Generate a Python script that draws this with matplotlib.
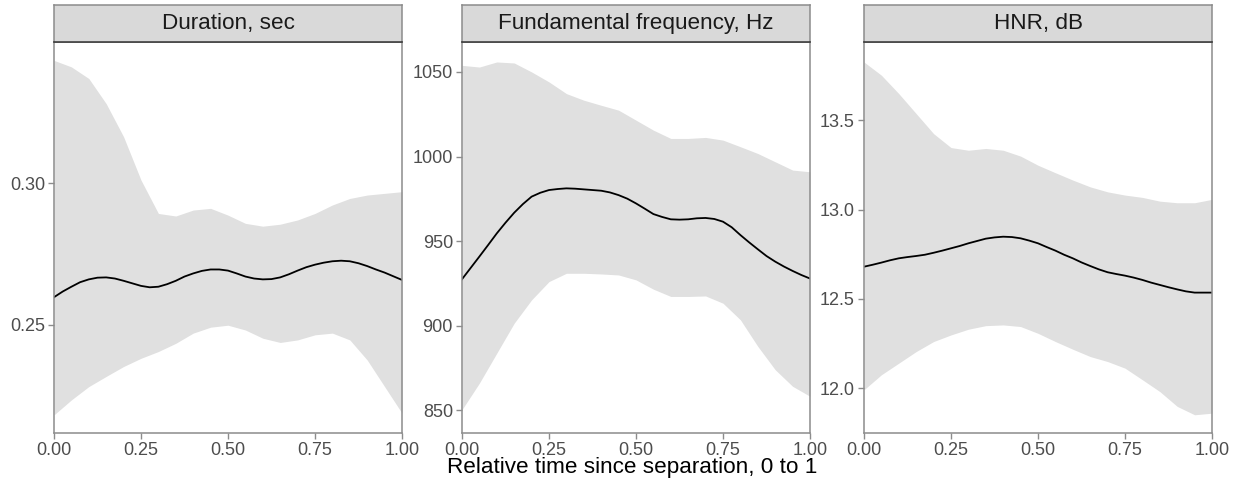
import matplotlib
matplotlib.use("Agg")
from matplotlib import pyplot as plt

plt.rcParams['font.family'] = ['Liberation Sans', 'DejaVu Sans']

# relative time grids (ribbons read every 0.05, mean curves every 0.025)
time = [i / 20 for i in range(21)]
time_fine = [i / 40 for i in range(41)]

# Duration, sec
dur_mean = [0.2598, 0.2618, 0.2635, 0.2651, 0.2661, 0.2667, 0.2668, 0.2664, 0.2656, 0.2647,
            0.2638, 0.2633, 0.2635, 0.2644, 0.2656, 0.2671, 0.2682, 0.2691, 0.2696, 0.2696,
            0.2692, 0.2682, 0.2671, 0.2664, 0.2661, 0.2662, 0.2668, 0.2679, 0.2692, 0.2704,
            0.2713, 0.2720, 0.2725, 0.2727, 0.2725, 0.2718, 0.2708, 0.2696, 0.2685, 0.2672, 0.2659]
dur_upper = [0.3435, 0.3412, 0.3371, 0.3282, 0.3165, 0.3012, 0.2894, 0.2885, 0.2906, 0.2912, 0.2888,
             0.2859, 0.2849, 0.2856, 0.2871, 0.2894, 0.2924, 0.2947, 0.2959, 0.2965, 0.2971]
dur_lower = [0.2182, 0.2235, 0.2282, 0.2318, 0.2353, 0.2382, 0.2406, 0.2435, 0.2471, 0.2492, 0.2499,
             0.2482, 0.2453, 0.2438, 0.2447, 0.2465, 0.2471, 0.2447, 0.2376, 0.2282, 0.2188]

# Fundamental frequency, Hz
f0_mean = [927.5, 934.2, 940.9, 947.7, 954.6, 960.9, 966.8, 971.9, 976.3, 978.6,
           980.2, 980.8, 981.2, 981.0, 980.6, 980.2, 979.8, 978.8, 977.2, 975.1,
           972.3, 969.2, 966.0, 964.3, 962.9, 962.7, 962.9, 963.5, 963.7, 963.1,
           961.5, 958.2, 953.6, 949.3, 945.2, 941.2, 937.9, 935.0, 932.4, 930.0, 927.9]
f0_upper = [1053.9, 1052.9, 1055.9, 1055.3, 1050.0, 1044.1, 1037.2, 1033.3, 1030.3, 1027.4, 1021.5,
            1015.6, 1010.7, 1010.7, 1011.3, 1009.7, 1005.8, 1001.8, 996.9, 992.0, 991.0]
f0_lower = [850.4, 866.1, 883.8, 901.5, 915.3, 926.1, 931.0, 931.0, 930.6, 930.0, 927.1,
            921.6, 917.3, 917.3, 917.6, 913.3, 903.5, 887.8, 874.0, 864.2, 858.3]

# HNR, dB
hnr_mean = [12.680, 12.691, 12.703, 12.716, 12.727, 12.734, 12.740, 12.747, 12.758, 12.770,
            12.783, 12.796, 12.811, 12.824, 12.837, 12.844, 12.848, 12.846, 12.839, 12.826,
            12.811, 12.790, 12.770, 12.747, 12.727, 12.704, 12.684, 12.665, 12.649, 12.639,
            12.630, 12.619, 12.606, 12.591, 12.578, 12.565, 12.553, 12.542, 12.535, 12.535, 12.535]
hnr_upper = [13.826, 13.752, 13.649, 13.537, 13.425, 13.347, 13.332, 13.342, 13.332, 13.299, 13.248,
             13.206, 13.165, 13.127, 13.099, 13.081, 13.068, 13.047, 13.038, 13.038, 13.057]
hnr_lower = [11.991, 12.075, 12.140, 12.205, 12.261, 12.298, 12.330, 12.350, 12.354, 12.345, 12.307,
             12.261, 12.218, 12.177, 12.149, 12.112, 12.047, 11.981, 11.898, 11.851, 11.860]

titles = ["Duration, sec", "Fundamental frequency, Hz", "HNR, dB"]
x_ticks = [0.0, 0.25, 0.5, 0.75, 1.0]
x_ticklabels = ["0.00", "0.25", "0.50", "0.75", "1.00"]

panels = [
    (dur_mean, dur_lower, dur_upper, [0.25, 0.30], ["0.25", "0.30"], (0.2118, 0.350)),
    (f0_mean, f0_lower, f0_upper, [850, 900, 950, 1000, 1050], ["850", "900", "950", "1000", "1050"], (836.6, 1067.7)),
    (hnr_mean, hnr_lower, hnr_upper, [12.0, 12.5, 13.0, 13.5], ["12.0", "12.5", "13.0", "13.5"], (11.749, 13.938)),
]

W, H = 1233, 486
fig = plt.figure(figsize=(W / 100, H / 100), dpi=100)
fig.patch.set_facecolor("white")

lefts = [54, 462, 864]
pw = 348
top, bottom, strip_top = 42, 433, 5
edge = "#8c8c8c"
txt = "#4d4d4d"

for i, (mean, lo, up, yt, ytl, ylim) in enumerate(panels):
    ax = fig.add_axes([lefts[i] / W, 1 - bottom / H, pw / W, (bottom - top) / H])
    ax.fill_between(time, lo, up, color="#e0e0e0", linewidth=0)
    ax.plot(time_fine, mean, color="black", linewidth=1.3, solid_joinstyle="round")
    ax.set_xlim(0, 1)
    ax.set_ylim(*ylim)
    ax.set_xticks(x_ticks)
    ax.set_xticklabels(x_ticklabels)
    ax.set_yticks(yt)
    ax.set_yticklabels(ytl)
    ax.tick_params(length=4, width=1, color=edge, labelcolor=txt, labelsize=13, pad=2.5)
    for s in ax.spines.values():
        s.set_color(edge)
        s.set_linewidth(1.1)

    # facet strip
    sax = fig.add_axes([lefts[i] / W, 1 - top / H, pw / W, (top - strip_top) / H])
    sax.set_facecolor("#d9d9d9")
    sax.set_xticks([])
    sax.set_yticks([])
    for s in sax.spines.values():
        s.set_color(edge)
        s.set_linewidth(1.1)
    sax.spines["bottom"].set_color("#333333")
    sax.text(0.5, 0.5, titles[i], ha="center", va="center", fontsize=16.2, color="#1a1a1a",
             transform=sax.transAxes)

fig.text(632 / W, 1 - 468 / H, "Relative time since separation, 0 to 1",
         ha="center", va="center", fontsize=16.2, color="black")

fig.savefig("out.png", dpi=100, facecolor="white")
